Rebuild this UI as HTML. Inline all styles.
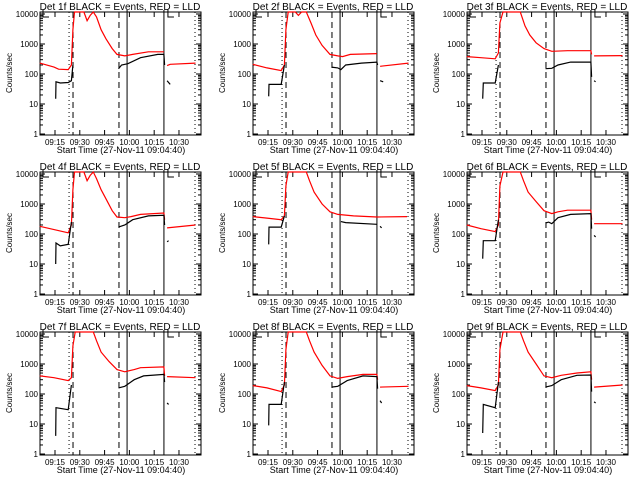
<!DOCTYPE html>
<html><head><meta charset="utf-8"><style>
html,body{margin:0;padding:0;background:#fff;}
svg{display:block;}
text{font-family:"Liberation Sans",sans-serif;fill:#000;}
</style></head><body>
<svg id="chart" width="640" height="480" viewBox="0 0 640 480" xmlns="http://www.w3.org/2000/svg"></svg>
<script>
// Data: time in minutes after 09:00, values in counts/sec
const detectorNames = ["1f","2f","3f","4f","5f","6f","7f","8f","9f"];
const xTickMinutes = [15,30,45,60,75,90];
const xTickLabels = ["09:15","09:30","09:45","10:00","10:15","10:30"];
const yTickValues = [1,10,100,1000,10000];
const yTickLabels = ["1","10","100","1000","10000"];
const dottedMarkers = [23.5,99.7];
const dashedMarkers = [25.9,53.7];
const solidMarkers = [58.6,80.9];

const red1 = [[[5.8,230],[14.4,170],[17.2,145],[23,140],[24.9,200],[25.8,3000],[26.8,12000],[32.5,12000],[34.4,6000],[36.3,9000],[38.2,12000],[40.1,8000],[42.9,3000],[45.8,1500],[49.6,700],[52.5,450],[57.2,400],[62,450],[71.5,550],[80.9,550]],[[82.8,190],[84.7,210],[100,230]]];
const black1 = [[[15.4,15],[15.6,55],[18.2,50],[23,52],[24.9,60],[25.8,200]],[[53.4,150],[55.3,200],[59.1,220],[66.7,350],[77.2,450],[80.9,450],[81.3,200]],[[82.8,60],[84.7,45]]];
const red2 = [[[5.8,210],[14.4,160],[23,130],[24.9,200],[25.8,3000],[27.2,12000],[31.5,12000],[33.4,9000],[35.3,12000],[38.2,12000],[41,5000],[43.9,2000],[47.7,900],[52.5,450],[57.2,400],[60.1,380],[64.8,450],[80.9,480]],[[82.8,180],[100,230]]];
const black2 = [[[15.4,18],[15.6,45],[23,45],[24.9,200]],[[53.4,170],[57.2,160],[59.1,140],[62,200],[71.5,230],[80.9,250],[81.3,200]],[[82.8,60],[84.7,55]]];
const red3 = [[[5.8,380],[14.4,350],[23,320],[24.9,500],[25.8,5000],[27.7,12000],[38.2,12000],[41,4000],[43.9,2000],[47.7,1100],[52.5,700],[57.2,570],[66.7,600],[80.9,600],[81.3,450]],[[82.8,400],[100,410]]];
const black3 = [[[15.4,15],[15.8,50],[23,50],[24.9,200]],[[53.4,150],[57.2,155],[61,200],[68.6,250],[80.9,250],[81.3,80]],[[82.8,60],[83.7,55]]];
const red4 = [[[5.8,180],[14.4,140],[23,110],[24.9,200],[25.8,3000],[26.8,12000],[32.5,12000],[34.4,6000],[36.3,9000],[38.2,12000],[40.1,7000],[42.9,3000],[45.8,1500],[49.6,600],[52.5,370],[57.2,350],[61,380],[66.7,450],[80.9,500],[81.3,300]],[[82.8,160],[100,200]]];
const black4 = [[[15.4,10],[15.6,50],[18.2,40],[23,45],[24.9,250]],[[53.4,170],[57.2,200],[62,300],[71.5,400],[80.9,420],[81.3,200]],[[82.8,55],[83.7,60]]];
const red5 = [[[5.8,380],[14.4,340],[23,300],[24.9,400],[25.8,4000],[27.2,12000],[38.2,12000],[40.1,6000],[42.9,2500],[47.7,1000],[52.5,550],[57.2,450],[66.7,400],[80.9,370],[99.1,380]]];
const black5 = [[[15.4,45],[15.6,170],[23,170],[24.9,400]],[[59.1,260],[62,240],[80.9,210]],[[82.8,180],[83.7,160]]];
const red6 = [[[5.8,200],[14.4,150],[23,120],[24.9,200],[25.8,4000],[27.7,12000],[38.2,12000],[40.1,6000],[42.9,2500],[47.7,1200],[52.5,600],[57.2,480],[61,550],[66.7,620],[80.9,620],[81.3,300]],[[82.8,220],[100,220]]];
const black6 = [[[15.4,15],[15.8,60],[23,60],[24.9,300]],[[53.4,230],[55.3,250],[57.2,220],[61,350],[68.6,450],[80.9,480],[81.3,150]],[[82.8,90],[83.7,80]]];
const red7 = [[[5.8,400],[14.4,350],[23,280],[24.9,350],[25.8,4000],[27.2,12000],[38.2,12000],[40.1,6000],[42.9,2500],[47.7,1200],[52.5,650],[57.2,550],[62.9,650],[66.7,750],[80.9,800],[81.3,400]],[[82.8,380],[100,350]]];
const black7 = [[[15.4,4],[15.6,35],[23,30],[24.9,200]],[[53.4,160],[57.2,180],[62.9,300],[68.6,400],[80.9,450],[81.3,250]],[[82.8,50],[83.7,45]]];
const red8 = [[[5.8,190],[14.4,160],[23,120],[24.9,200],[25.8,3000],[27.2,12000],[38.2,12000],[40.1,6000],[42.9,2500],[47.7,900],[52.5,400],[57.2,330],[62.9,380],[72.5,450],[80.9,450],[81.3,300]],[[82.8,170],[100,180]]];
const black8 = [[[15.4,9],[15.6,45],[23,45],[24.9,250]],[[53.4,170],[57.2,180],[62.9,280],[72.5,400],[80.9,380],[81.3,150]],[[82.8,60],[83.7,50]]];
const red9 = [[[5.8,190],[14.4,160],[23,130],[24.9,200],[25.8,3000],[27.7,12000],[38.2,12000],[40.1,6000],[42.9,2500],[47.7,1000],[52.5,400],[57.2,350],[62.9,420],[72.5,500],[80.9,550],[81.3,300]],[[82.8,170],[100,200]]];
const black9 = [[[15.4,5],[15.8,45],[23,35],[24.9,250]],[[53.4,170],[57.2,190],[62.9,300],[72.5,420],[80.9,430],[81.3,120]],[[82.8,55],[83.7,50]]];
const redSeries = [red1,red2,red3,red4,red5,red6,red7,red8,red9];
const blackSeries = [black1,black2,black3,black4,black5,black6,black7,black8,black9];

const NS = "http://www.w3.org/2000/svg";
const svg = document.getElementById("chart");
const L = 40, R = 201, T = 12, B = 135;
function xScale(t){ return 55 + (t - 15) * 1.653; }
function yScale(v){ const y = 134 - 30 * Math.log10(v); return Math.max(T, Math.min(B, y)); }
function mk(tag, attrs, parent){ const e = document.createElementNS(NS, tag); for (const k in attrs) e.setAttribute(k, attrs[k]); parent.appendChild(e); return e; }

for (let i = 0; i < 9; i++) {
  const ox = [0,213,427][i % 3], oy = [0,160,320][Math.floor(i / 3)];
  const g = mk("g", {transform: "translate(" + ox + "," + oy + ")"}, svg);
  
  

  const title = mk("text", {x: 120, y: 10, "text-anchor": "middle", "font-size": 10}, g);
  title.textContent = "Det " + detectorNames[i] + " BLACK = Events, RED = LLD";
  
  

  const yt = mk("text", {x: 0, y: 0, "text-anchor": "middle", "font-size": 8, transform: "translate(12,73) rotate(-90)"}, g);
  yt.textContent = "Counts/sec";
  
  

  const xt = mk("text", {x: 121, y: 153, "text-anchor": "middle", "font-size": 9}, g);
  xt.textContent = "Start Time (27-Nov-11 09:04:40)";
  
  

  const frame = mk("rect", {x: L, y: T, width: R - L, height: B - T, fill: "none", stroke: "#000", "stroke-width": 1}, g);
  
  

  for (let d = 0; d < yTickValues.length; d++) {
    const v = yTickValues[d], y = yScale(v);
    mk("line", {x1: L, x2: L + 5, y1: y, y2: y, stroke: "#000"}, g);
    mk("line", {x1: R - 5, x2: R, y1: y, y2: y, stroke: "#000"}, g);
    const lb = mk("text", {x: L - 2, y: y + 3, "text-anchor": "end", "font-size": 8}, g);
    lb.textContent = yTickLabels[d];
    
    
    if (d < yTickValues.length - 1) {
      for (let m = 2; m <= 9; m++) {
        const ym = yScale(v * m);
        mk("line", {x1: L, x2: L + 3, y1: ym, y2: ym, stroke: "#000"}, g);
        mk("line", {x1: R - 3, x2: R, y1: ym, y2: ym, stroke: "#000"}, g);
      }
    }
  }
  for (let k = 0; k < xTickMinutes.length; k++) {
    const x = xScale(xTickMinutes[k]);
    mk("line", {x1: x, x2: x, y1: B, y2: B - 5, stroke: "#000"}, g);
    mk("line", {x1: x, x2: x, y1: T, y2: T + 5, stroke: "#000"}, g);
    const lb = mk("text", {x: x, y: 145, "text-anchor": "middle", "font-size": 8}, g);
    lb.textContent = xTickLabels[k];
    
    
  }
  dottedMarkers.forEach(t => { const l = mk("line", {x1: xScale(t), x2: xScale(t), y1: T, y2: B, stroke: "#000", "stroke-dasharray": "1,3"}, g);   });
  dashedMarkers.forEach(t => { const l = mk("line", {x1: xScale(t), x2: xScale(t), y1: T, y2: B, stroke: "#000", "stroke-dasharray": "6,4"}, g);   });
  solidMarkers.forEach(t => { const l = mk("line", {x1: xScale(t), x2: xScale(t), y1: T - 2, y2: B, stroke: "#000"}, g);   });
  [L + 3, xScale(80.9) + 4].forEach(x => { mk("path", {d: "M" + x + " " + (T - 2) + " V" + (T + 5) + " H" + (x + 6), fill: "none", stroke: "#000"}, g); });

  function drawSeries(segs, color, name) {
    segs.forEach(seg => {
      const pts = seg.map(p => xScale(p[0]).toFixed(1) + "," + yScale(p[1]).toFixed(1)).join(" ");
      const pl = mk("polyline", {points: pts, fill: "none", stroke: color, "stroke-width": 1.2}, g);
      
      
    });
  }
  drawSeries(redSeries[i], "#f00", "lld-series");
  drawSeries(blackSeries[i], "#000", "events-series");
}
</script>
</body></html>
